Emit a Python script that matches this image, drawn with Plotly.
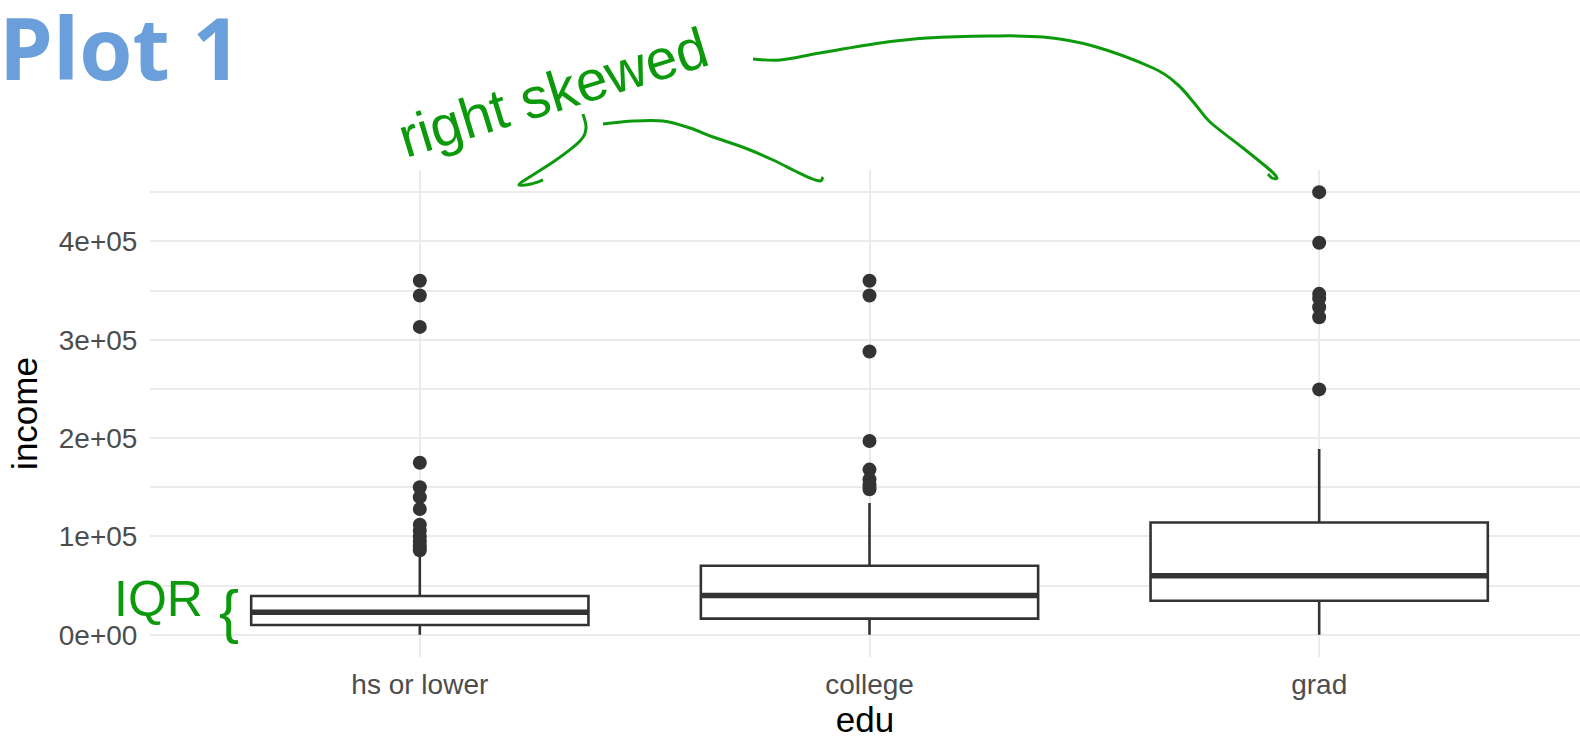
import plotly.graph_objects as go

# Education groups and summary statistics of income
edu = ["hs or lower", "college", "grad"]
q1 = [10000, 16500, 34600]
median = [23000, 40000, 60000]
q3 = [39500, 70300, 114200]
lower_whisker = [0, 0, 0]
upper_whisker = [82000, 134000, 189000]

# Outlying incomes beyond the whiskers
outliers_hs = [360000, 345000, 313000, 175000, 150000, 140000, 128000,
               112000, 106000, 100000, 95000, 90000, 86000]
outliers_college = [360000, 345000, 288000, 197000, 168000, 158000, 152000, 148000]
outliers_grad = [450000, 398500, 346600, 342000, 333000, 322800, 249500]

# Tick labels
y_tickvals = [0, 100000, 200000, 300000, 400000]
y_ticktext = ["0e+00", "1e+05", "2e+05", "3e+05", "4e+05"]

W, H = 1580, 739
ML, MR, MT, MB = 150, 0, 170, 82
PW, PH = W - ML - MR, H - MT - MB
BOX_W = 0.75
DARK = "#333333"
GREEN = "#0c9a0c"
TICK_FONT = dict(family="Liberation Sans, Arial, sans-serif", size=28, color="#4D4D4D")
TITLE_FONT = dict(family="Liberation Sans, Arial, sans-serif", size=35, color="#000000")


def px(x, y):
    """Pixel position on the page -> paper coordinates."""
    return (x - ML) / PW, (H - MB - y) / PH


def smooth_path(points):
    """Catmull-Rom spline through pixel points, as an SVG path in paper units."""
    pts = [px(*p) for p in points]
    d = "M {:.5f},{:.5f}".format(*pts[0])
    for i in range(len(pts) - 1):
        p0 = pts[i - 1] if i > 0 else pts[i]
        p1, p2 = pts[i], pts[i + 1]
        p3 = pts[i + 2] if i + 2 < len(pts) else p2
        c1 = (p1[0] + (p2[0] - p0[0]) / 6, p1[1] + (p2[1] - p0[1]) / 6)
        c2 = (p2[0] - (p3[0] - p1[0]) / 6, p2[1] - (p3[1] - p1[1]) / 6)
        d += " C {:.5f},{:.5f} {:.5f},{:.5f} {:.5f},{:.5f}".format(*c1, *c2, *p2)
    return d


xpos = list(range(len(edu)))

fig = go.Figure()

fig.add_trace(go.Box(
    x=xpos, q1=q1, median=median, q3=q3,
    lowerfence=lower_whisker, upperfence=upper_whisker,
    width=BOX_W, whiskerwidth=0, boxpoints=False,
    fillcolor="white", line=dict(color=DARK, width=2.6),
    hoverinfo="skip", showlegend=False,
))

# Thicker median bars
mx, my = [], []
for i, m in zip(xpos, median):
    mx += [i - BOX_W / 2, i + BOX_W / 2, None]
    my += [m, m, None]
fig.add_trace(go.Scatter(x=mx, y=my, mode="lines",
                         line=dict(color=DARK, width=5.5),
                         hoverinfo="skip", showlegend=False))

for i, pts in zip(xpos, [outliers_hs, outliers_college, outliers_grad]):
    fig.add_trace(go.Scatter(x=[i] * len(pts), y=pts, mode="markers",
                             marker=dict(color=DARK, size=14, line=dict(width=0)),
                             showlegend=False))

# Hand-drawn pointers
strokes = [
    [(583, 114), (586, 128), (580, 141), (556, 160), (528, 178), (519, 185),
     (531, 184), (543, 180)],
    [(603, 124), (633, 121), (663, 121), (690, 128), (713, 137), (745, 148),
     (773, 160), (795, 171), (810, 178), (820, 181), (823, 177)],
    [(753, 59), (780, 60), (820, 53), (880, 43), (927, 38), (990, 36),
     (1043, 37), (1093, 46), (1153, 68), (1177, 84), (1195, 104), (1210, 122),
     (1243, 148), (1270, 170), (1277, 178), (1272, 178), (1268, 174)],
]
shapes = [dict(type="path", path=smooth_path(s), xref="paper", yref="paper",
               line=dict(color=GREEN, width=3), layer="above") for s in strokes]

annotations = []


def note(text, x, y, size, color, angle=0, family="Liberation Sans, Arial, sans-serif"):
    ax, ay = px(x, y)
    annotations.append(dict(text=text, x=ax, y=ay, xref="paper", yref="paper",
                            xanchor="center", yanchor="middle", showarrow=False,
                            textangle=angle, font=dict(family=family, size=size, color=color)))


note("<b>Plot 1</b>", 120, 47, 86, "#6A9FDB", family="Open Sans, sans-serif")
note("right skewed", 553, 92, 57, GREEN, angle=-17)
note("IQR", 158, 599, 50, GREEN)
note("{", 229, 611, 60, GREEN)

fig.update_layout(
    width=W, height=H,
    margin=dict(l=ML, r=MR, t=MT, b=MB, pad=0, autoexpand=False),
    paper_bgcolor="white", plot_bgcolor="white",
    shapes=shapes, annotations=annotations,
    xaxis=dict(
        range=[-0.6, 2.58], tickvals=xpos, ticktext=edu, automargin=False,
        showgrid=True, gridcolor="#EBEBEB", gridwidth=2.4,
        zeroline=False, showline=False,
        ticks="outside", ticklen=2, tickcolor="rgba(0,0,0,0)",
        tickfont=TICK_FONT,
        title=dict(text="edu", font=TITLE_FONT, standoff=18),
    ),
    yaxis=dict(
        range=[-22500, 472500], tickvals=y_tickvals, ticktext=y_ticktext,
        automargin=False,
        showgrid=True, gridcolor="#EBEBEB", gridwidth=2.4,
        minor=dict(tickvals=[50000, 150000, 250000, 350000, 450000],
                   showgrid=True, gridcolor="#EBEBEB", gridwidth=1.5),
        zeroline=False, showline=False,
        ticks="outside", ticklen=6, tickcolor="rgba(0,0,0,0)",
        tickfont=TICK_FONT,
        title=dict(text="income", font=TITLE_FONT, standoff=10),
    ),
)

fig.write_html("out.html")
